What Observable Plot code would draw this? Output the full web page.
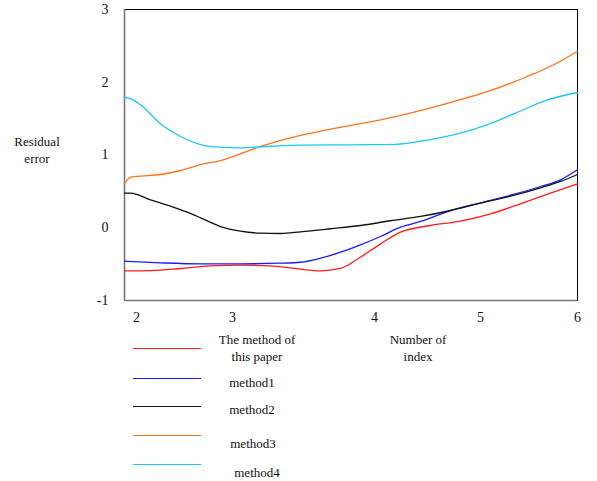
<!DOCTYPE html>
<html>
<head>
<meta charset="utf-8">
<script src="https://cdn.jsdelivr.net/npm/d3@7"></script>
<script src="https://cdn.jsdelivr.net/npm/@observablehq/plot@0.6"></script>
<style>
  html, body { margin: 0; padding: 0; background: #fff; }
  #wrap { position: relative; width: 597px; height: 481px; font-family: "Liberation Serif", "Times New Roman", serif; color: #111; }
  #wrap svg { position: absolute; left: 0; top: 0; }
  .lbl { position: absolute; transform: translate(-50%, -50%); font-size: 13px; white-space: nowrap; text-align: center; line-height: 17px; }
  .key { position: absolute; height: 0; }
</style>
</head>
<body>
<div id="wrap"></div>
<script>
// ---- data ----
const seriesNames = ["The method of this paper", "method1", "method2", "method3", "method4"];
const seriesColors = ["#ff1a1a", "#1a1aff", "#111111", "#ff7218", "#18c8f8"];

const xOurs = [1.875, 2.146, 2.458, 2.771, 3.056, 3.268, 3.408, 3.620, 3.761, 3.901, 4.057, 4.245, 4.528, 4.811, 5.103, 5.412, 5.722, 6.0];
const yOurs = [-0.592, -0.588, -0.560, -0.523, -0.515, -0.523, -0.551, -0.592, -0.560, -0.405, -0.221, -0.061, 0.031, 0.091, 0.192, 0.329, 0.475, 0.604];

const xM1 = [1.875, 2.25, 2.667, 3.056, 3.338, 3.479, 3.620, 3.761, 3.901, 4.057, 4.245, 4.434, 4.717, 5.0, 5.309, 5.619, 5.825, 6.0];
const yM1 = [-0.460, -0.482, -0.496, -0.496, -0.487, -0.474, -0.419, -0.336, -0.234, -0.120, 0.008, 0.086, 0.237, 0.343, 0.447, 0.567, 0.659, 0.797];

const xM2 = [1.875, 1.938, 2.146, 2.354, 2.528, 2.667, 2.875, 3.056, 3.197, 3.338, 3.479, 3.690, 3.901, 4.151, 4.434, 4.717, 5.0, 5.309, 5.619, 5.825, 6.0];
const yM2 = [0.475, 0.475, 0.384, 0.296, 0.214, 0.137, 0.017, -0.047, -0.075, -0.079, -0.056, -0.014, 0.031, 0.096, 0.155, 0.237, 0.338, 0.434, 0.549, 0.636, 0.732];

const xM3 = [1.875, 1.938, 2.042, 2.25, 2.458, 2.667, 2.875, 3.197, 3.408, 3.620, 3.831, 4.198, 4.670, 5.052, 5.464, 5.739, 6.0];
const yM3 = [0.604, 0.695, 0.709, 0.732, 0.787, 0.869, 0.924, 1.117, 1.236, 1.327, 1.406, 1.529, 1.704, 1.863, 2.069, 2.230, 2.427];

const xM4 = [1.875, 1.96, 2.042, 2.25, 2.458, 2.667, 2.875, 3.056, 3.268, 3.479, 3.831, 4.198, 4.512, 4.764, 5.052, 5.361, 5.670, 6.0];
const yM4 = [1.794, 1.760, 1.690, 1.429, 1.254, 1.144, 1.107, 1.099, 1.120, 1.135, 1.140, 1.146, 1.209, 1.282, 1.406, 1.575, 1.749, 1.859];

// axis: tick values, and the uneven spacing of the original's x axis
const xTicks = [2, 3, 4, 5, 6];
const yTicks = [-1, 0, 1, 2, 3];
const xBreaks = [1.875, 3, 4, 5, 6];
const xBreakFrac = [0, 0.2384, 0.5519, 0.7859, 1];
const yDomain = [-1, 3];
const yLabel = ["Residual", "error"];
const xLabel = ["Number of", "index"];

// piecewise (uneven) axis warp, applied through the scale below
const warp = d3.scaleLinear().domain(xBreaks).range(xBreakFrac);
const xTickPos = xTicks.map(warp);

// ---- build table ----
const xs = [xOurs, xM1, xM2, xM3, xM4];
const ys = [yOurs, yM1, yM2, yM3, yM4];
const rows = [];
xs.forEach((xa, i) => xa.forEach((x, j) => rows.push({series: seriesNames[i], x, y: ys[i][j]})));

const chart = Plot.plot({
  width: 597,
  height: 330,
  marginTop: 9,
  marginBottom: 30,
  marginLeft: 124,
  marginRight: 20,
  style: {fontFamily: "Liberation Serif, Times New Roman, serif", fontSize: "14px", color: "#111", background: "transparent"},
  x: {domain: [0, 1], ticks: xTickPos, tickSize: 0, tickPadding: 12, label: null,
      tickFormat: d => String(xTicks[xTickPos.indexOf(d)])},
  y: {domain: yDomain, ticks: yTicks, tickSize: 0, tickPadding: 16, label: null, tickFormat: d => String(d)},
  color: {domain: seriesNames, range: seriesColors},
  marks: [
    Plot.frame({stroke: "#000", strokeWidth: 1}),
    Plot.ruleX([warp(xBreaks[0])], {stroke: "#777", strokeWidth: 1.6}),
    Plot.ruleY([yDomain[0]], {stroke: "#777", strokeWidth: 1.6}),
    Plot.line(rows, {x: d => warp(d.x), y: "y", z: "series", stroke: "series", strokeWidth: 1.3, curve: "monotone-x"})
  ]
});

const wrap = document.getElementById("wrap");
wrap.appendChild(chart);

function addLabel(lines, cx, cy) {
  const d = document.createElement("div");
  d.className = "lbl";
  d.style.left = cx + "px";
  d.style.top = cy + "px";
  d.innerHTML = lines.join("<br>");
  wrap.appendChild(d);
}
addLabel(yLabel, 37, 150);
addLabel(xLabel, 418, 348);

// legend
const legendRows = [
  {lines: ["The method of", "this paper"], ly: 348, tx: 257, ty: 348},
  {lines: ["method1"], ly: 378, tx: 252, ty: 382},
  {lines: ["method2"], ly: 406, tx: 252, ty: 409},
  {lines: ["method3"], ly: 435, tx: 253, ty: 443},
  {lines: ["method4"], ly: 464, tx: 257, ty: 472}
];
legendRows.forEach((r, i) => {
  const k = document.createElement("div");
  k.className = "key";
  k.style.left = "133px";
  k.style.width = "68px";
  k.style.top = (r.ly - 0.5) + "px";
  k.style.borderTop = "1.3px solid " + seriesColors[i];
  wrap.appendChild(k);
  addLabel(r.lines, r.tx, r.ty);
});
</script>
</body>
</html>
